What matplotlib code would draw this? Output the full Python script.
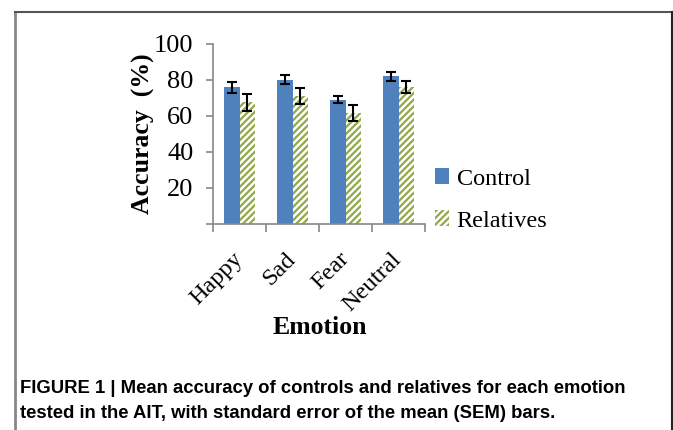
import matplotlib
matplotlib.use("Agg")
import matplotlib.pyplot as plt
from matplotlib.patches import Patch
from matplotlib.lines import Line2D
import matplotlib.transforms as mtransforms
import numpy as np

categories = ["Happy", "Sad", "Fear", "Neutral"]
control = [76, 80, 69, 82]
control_err = [3, 2.5, 2, 2.5]
relatives = [67.5, 71, 61.5, 76]
relatives_err = [4.5, 4.5, 4.5, 3.5]
yticks = [0, 20, 40, 60, 80, 100]
ytick_labels = ["", "20", "40", "60", "80", "100"]
series_names = ["Control", "Relatives"]

plt.rcParams['hatch.linewidth'] = 1.6
W, H = 673, 430
fig = plt.figure(figsize=(W / 100, H / 100), dpi=100)
ax = fig.add_axes([213 / W, 1 - 224 / H, (425 - 213) / W, (224 - 44) / H])

serif = "Liberation Serif"
blue = "#4F81BD"
green = "#8FA848"

x = np.arange(len(categories))
bw = 0.29
ax.bar(x - bw / 2, control, bw, color=blue, edgecolor=blue, linewidth=0, zorder=2)
ax.bar(x + bw / 2, relatives, bw, color="white", edgecolor=green, hatch="/////",
       linewidth=0, zorder=2)
ax.errorbar(x - bw / 2, control, yerr=control_err, fmt="none", ecolor="black",
            elinewidth=1.5, capsize=3.5, capthick=1.5, zorder=3)
ax.errorbar(x + bw / 2, relatives, yerr=relatives_err, fmt="none", ecolor="black",
            elinewidth=1.5, capsize=3.5, capthick=1.5, zorder=3)

ax.set_xlim(-0.5, len(categories) - 0.5)
ax.set_ylim(0, 100)
ax.set_yticks(yticks)
ax.set_yticklabels(ytick_labels, fontfamily=serif, fontsize=19)
ax.set_xticks(np.arange(len(categories) + 1) - 0.5, minor=False)
ax.set_xticklabels([])
ax.set_xticks(x, minor=True)
ax.set_xticklabels(categories, minor=True, rotation=45, ha="right", va="center",
                   rotation_mode="anchor", fontfamily=serif, fontsize=17.5)
offset = mtransforms.ScaledTranslation(5 / 100, 0, fig.dpi_scale_trans)
for lbl in ax.get_xticklabels(minor=True):
    lbl.set_transform(lbl.get_transform() + offset)
ax.tick_params(axis="x", which="minor", length=0, pad=23)
ax.tick_params(axis="x", which="major", length=6, width=1.2, color="#888888", direction="out")
ax.tick_params(axis="y", length=5, width=1.2, color="#888888", direction="out", pad=9)
for s in ["top", "right"]:
    ax.spines[s].set_visible(False)
for s in ["left", "bottom"]:
    ax.spines[s].set_color("#888888")
    ax.spines[s].set_linewidth(1.2)

ax.set_ylabel("Accuracy  (%)", fontfamily=serif, fontsize=18.5, fontweight="bold")
ax.yaxis.set_label_coords(-0.275, 0.5)
fig.text(320 / W, 1 - 328 / H, "Emotion", fontfamily=serif, fontsize=18.5,
         fontweight="bold", ha="center", va="center")

handles = [Patch(facecolor=blue, edgecolor=blue, linewidth=0),
           Patch(facecolor="white", edgecolor=green, hatch="/////", linewidth=0)]
leg = fig.legend(handles, series_names, loc="center left",
                 bbox_to_anchor=(413 / W, 1 - 200 / H), frameon=False,
                 prop={"family": serif, "size": 17.5}, handlelength=0.6,
                 handleheight=0.6, handletextpad=0.3, labelspacing=0.85)

fig.add_artist(Line2D([14.5 / W, 14.5 / W], [0, 1 - 11.5 / H], color="#888888", lw=2))
fig.add_artist(Line2D([14.5 / W, 671.5 / W], [1 - 11.5 / H, 1 - 11.5 / H], color="#555555", lw=1.5))
fig.add_artist(Line2D([671.5 / W, 671.5 / W], [0, 1 - 11.5 / H], color="#222222", lw=1.5))

cap_font = ["Liberation Sans Narrow", "Liberation Sans"]
fig.text(20 / W, 1 - 393 / H, "FIGURE 1 | Mean accuracy of controls and relatives for each emotion",
         family=cap_font, fontsize=13.3, fontweight="bold", ha="left", va="baseline")
fig.text(20 / W, 1 - 418 / H, "tested in the AIT, with standard error of the mean (SEM) bars.",
         family=cap_font, fontsize=13.3, fontweight="bold", ha="left", va="baseline")

fig.savefig("out.png", dpi=100)
